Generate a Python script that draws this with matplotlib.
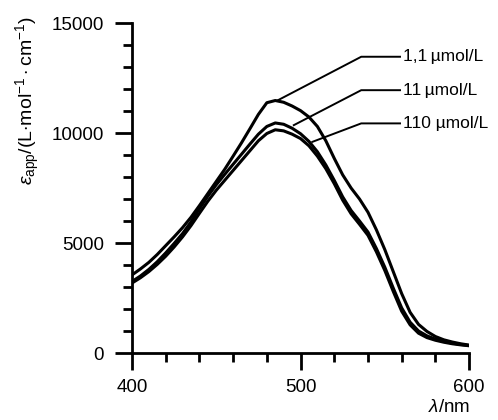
import numpy as np
import matplotlib
matplotlib.use("Agg")
import matplotlib.pyplot as plt
from matplotlib.ticker import MultipleLocator

plt.rcParams['font.family'] = ['Liberation Sans', 'DejaVu Sans']
plt.rcParams['mathtext.fontset'] = 'custom'
plt.rcParams['mathtext.rm'] = 'Liberation Sans'
plt.rcParams['mathtext.it'] = 'Liberation Sans:italic'

# wavelength grid (nm)
wl = list(range(400, 601, 5))

# apparent molar absorptivity
eps_1_1 = [3550, 3820, 4120, 4480, 4880, 5280, 5700, 6170, 6700, 7250, 7800,
           8350, 8950, 9560, 10200, 10850, 11380, 11480, 11400, 11230, 11020,
           10730, 10300, 9650, 8850, 8100, 7500, 7000, 6400, 5600, 4700,
           3700, 2700, 1850, 1300, 980, 750, 600, 500, 420, 360]
eps_11 = [3250, 3500, 3800, 4150, 4550, 4980, 5430, 5960, 6560, 7130, 7650,
          8120, 8580, 9040, 9500, 9950, 10300, 10460, 10400, 10220, 9970,
          9620, 9150, 8550, 7850, 7100, 6480, 6000, 5500, 4750, 3900,
          2950, 2050, 1400, 1000, 780, 630, 530, 450, 390, 340]
eps_110 = [3180, 3420, 3700, 4030, 4400, 4820, 5280, 5790, 6350, 6900, 7400,
           7850, 8300, 8750, 9200, 9650, 9980, 10150, 10100, 9950, 9750,
           9420, 8950, 8380, 7700, 6950, 6330, 5850, 5350, 4600, 3750,
           2800, 1900, 1280, 900, 700, 580, 490, 420, 370, 330]

labels = ['1,1\u2009µmol/L', '11\u2009µmol/L', '110 µmol/L']
# (point on curve, knee of leader) in data coords
leaders = [((486, 11470), (536, 13470)),
           ((496, 10360), (536, 11950)),
           ((507, 9600), (536, 10440))]

fig = plt.figure(figsize=(4.98, 4.2), dpi=100)
ax = fig.add_axes([0.265, 0.1595, 0.677, 0.7855])

for y in (eps_1_1, eps_11, eps_110):
    ax.plot(wl, y, color='black', lw=2.2, solid_joinstyle='round')

for lab, (p, k) in zip(labels, leaders):
    ax.plot([p[0], k[0], 559], [p[1], k[1], k[1]], color='black', lw=1.4)
    ax.text(561, k[1], lab, ha='left', va='center', fontsize=12.5, clip_on=False)

ax.set_xlim(400, 600)
ax.set_ylim(0, 15000)
for s in ('top', 'right'):
    ax.spines[s].set_visible(False)
for s in ('left', 'bottom'):
    ax.spines[s].set_linewidth(2.0)

ax.xaxis.set_major_locator(MultipleLocator(100))
ax.xaxis.set_minor_locator(MultipleLocator(20))
ax.yaxis.set_major_locator(MultipleLocator(5000))
ax.yaxis.set_minor_locator(MultipleLocator(1000))
ax.tick_params(which='major', direction='out', length=12, width=2.0, labelsize=13.5, pad=7)
ax.tick_params(which='minor', direction='out', length=6.5, width=2.0)
ax.tick_params(axis='y', which='major', pad=8)

fig.text(28 / 498, 1 - 16 / 420,
         r'$\varepsilon_{\mathrm{app}}$/(L$\cdot$mol$^{-1}\cdot$cm$^{-1}$)',
         rotation=90, ha='center', va='top', fontsize=14)
fig.text(470 / 498, 1 - 408 / 420, r'$\mathit{\lambda}$/nm', ha='right', va='center', fontsize=13.5)

fig.savefig('out.png', dpi=100)
